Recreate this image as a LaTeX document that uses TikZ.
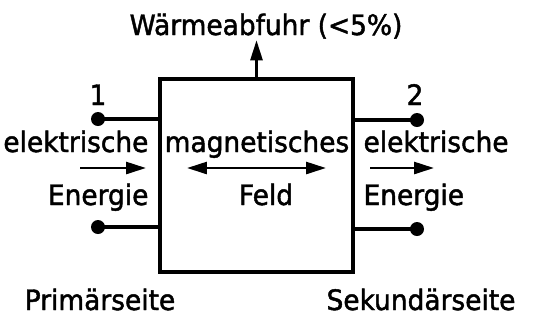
\documentclass[tikz,border=0pt]{standalone}
\usepackage{fontspec}
\setmainfont[FakeStretch=0.94, FakeBold=1.6]{DejaVu Sans}
\usetikzlibrary{arrows.meta,positioning}

\begin{document}
\begin{tikzpicture}[x=0.02cm, y=-0.02cm, line width=1.8pt,
    lbl/.style={inner sep=0pt, font=\fontsize{16}{19}\selectfont},
    pin/.style={circle, fill, inner sep=0pt, minimum size=0.28cm},
    flow/.style={-{Triangle[length=0.4cm, width=0.24cm]}, line width=1.5pt},
    biflow/.style={{Triangle[length=0.4cm, width=0.24cm]}-{Triangle[length=0.4cm, width=0.24cm]}, line width=1.5pt}]
    \useasboundingbox (0,0) rectangle (534,326);

    % Box
    \node[draw, minimum width=3.86cm, minimum height=3.86cm, inner sep=0pt] (box) at (256.5,175.5) {};

    % Heat output
    \node[lbl, anchor=base] (heat) at (266,35) {Wärmeabfuhr (<5\%)};
    \draw[flow] (box.north) -- (box.north |- heat.south);

    % Terminals
    \node[pin] (p1) at (98,119) {};
    \node[pin] (p2) at (98,227) {};
    \node[pin] (s1) at (417,120) {};
    \node[pin] (s2) at (417,229) {};
    \draw (p1.center) -- (p1 -| box.west);
    \draw (p2.center) -- (p2 -| box.west);
    \draw (s1.center) -- (s1 -| box.east);
    \draw (s2.center) -- (s2 -| box.east);
    \node[lbl, anchor=base] (n1) at (98,105) {1};
    \node[lbl, anchor=base] (n2) at (415,105) {2};

    % Primary side
    \node[lbl, anchor=base east] (el1) at (150,152) {elektrische};
    \node[lbl, anchor=base east] (en1) at (150,205) {Energie};
    \coordinate (a1) at (80,168);
    \coordinate (b1) at (146,168);
    \draw[flow] (a1) -- (b1);

    % Field
    \node[lbl, anchor=base] (mag) at (257,152) {magnetisches};
    \node[lbl, anchor=base] (feld) at (266,205) {Feld};
    \coordinate (a2) at (187,168);
    \coordinate (b2) at (326,168);
    \draw[biflow] (a2) -- (b2);

    % Secondary side
    \node[lbl, anchor=base west] (el2) at (362,152) {elektrische};
    \node[lbl, anchor=base west] (en2) at (362,205) {Energie};
    \coordinate (a3) at (370,168);
    \coordinate (b3) at (434,168);
    \draw[flow] (a3) -- (b3);

    % Side labels
    \node[lbl, anchor=base] (prim) at (100,310) {Primärseite};
    \node[lbl, anchor=base] (sek) at (421,310) {Sekundärseite};
\end{tikzpicture}
\end{document}
